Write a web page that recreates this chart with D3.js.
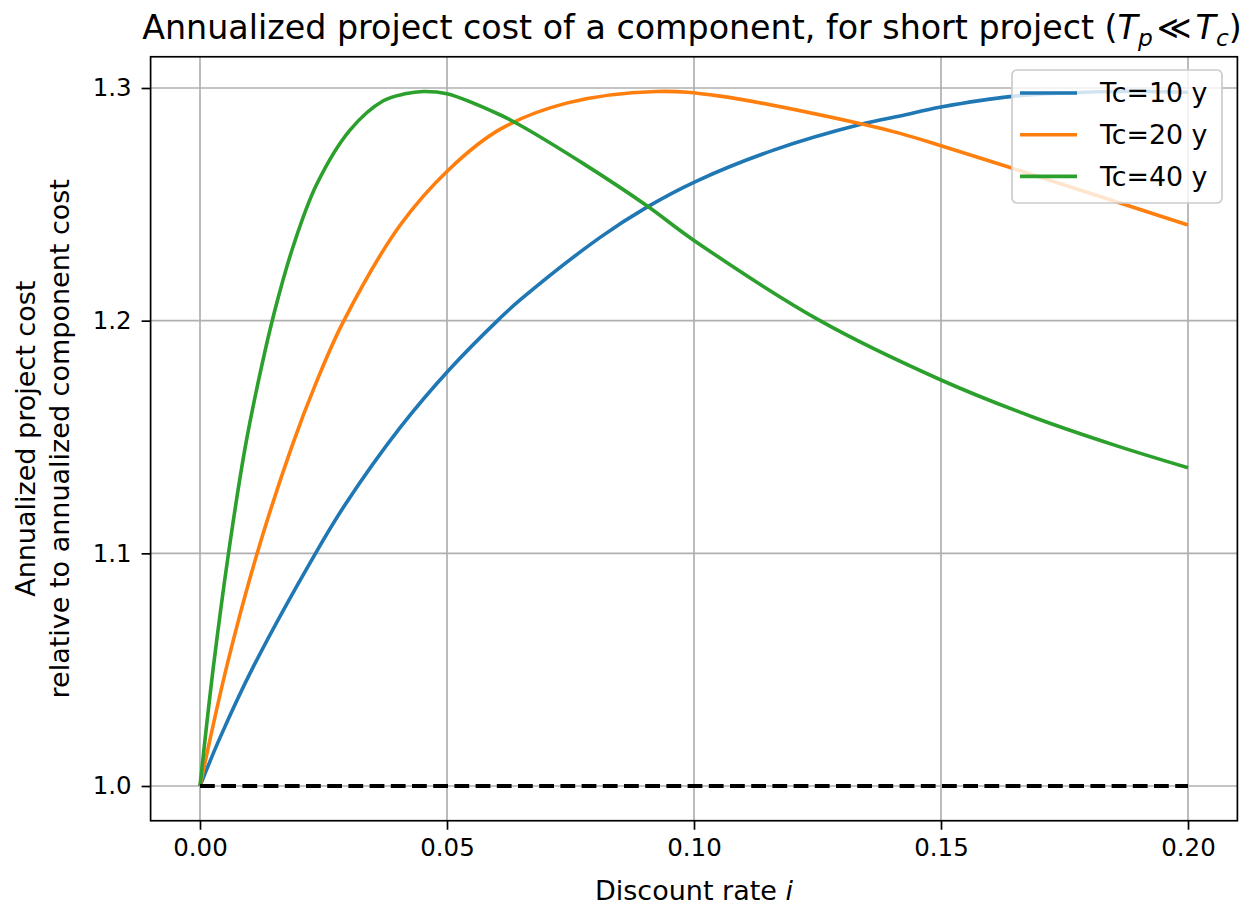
<!DOCTYPE html>
<html>
<head>
<meta charset="utf-8">
<script src="https://cdn.jsdelivr.net/npm/d3@7"></script>
<style>
  html, body { margin: 0; padding: 0; background: #fff; }
  svg { display: block; font-family: "DejaVu Sans", sans-serif; }
</style>
</head>
<body>
<svg id="chart" width="1258" height="908"></svg>
<script>
// ---- data ----
const seriesLabels = ["Tc=10 y", "Tc=20 y", "Tc=40 y"];
const seriesColors = ["#1f77b4", "#ff7f0e", "#2ca02c"];

const rateTc10 = [0, 0.0041, 0.0108, 0.0233, 0.0294, 0.0405, 0.0504, 0.0607, 0.0648, 0.081, 0.0904, 0.1002, 0.1161, 0.134, 0.1417, 0.15, 0.164, 0.185, 0.2];
const costTc10 = [1.0, 1.021, 1.0513, 1.0997, 1.121, 1.154, 1.1788, 1.201, 1.2089, 1.2358, 1.2487, 1.2597, 1.2733, 1.2845, 1.288, 1.2918, 1.2963, 1.2985, 1.2982];

const rateTc20 = [0, 0.0054, 0.0115, 0.0186, 0.0236, 0.029, 0.0405, 0.0504, 0.0607, 0.0742, 0.0924, 0.1053, 0.134, 0.1417, 0.15, 0.164, 0.2];
const costTc20 = [1.0, 1.0513, 1.0995, 1.146, 1.1738, 1.1995, 1.241, 1.265, 1.2822, 1.2935, 1.2985, 1.2965, 1.2845, 1.2805, 1.2752, 1.2658, 1.2411];

const rateTc40 = [0, 0.0027, 0.0057, 0.0091, 0.0118, 0.015, 0.0189, 0.0236, 0.0304, 0.0371, 0.0415, 0.0452, 0.05, 0.0607, 0.0648, 0.0776, 0.0904, 0.1, 0.1255, 0.15, 0.1687, 0.1856, 0.2];
const costTc40 = [1.0, 1.051, 1.099, 1.145, 1.1738, 1.2032, 1.2322, 1.2585, 1.282, 1.2945, 1.2975, 1.2985, 1.2975, 1.2885, 1.284, 1.2675, 1.2495, 1.2345, 1.2, 1.1745, 1.1585, 1.1462, 1.1368];

const baselineRate = [0, 0.2];
const baselineCost = [1.0, 1.0];

const xTicks = [0, 0.05, 0.10, 0.15, 0.20];
const xTickLabels = ["0.00", "0.05", "0.10", "0.15", "0.20"];
const yTicks = [1.0, 1.1, 1.2, 1.3];
const yTickLabels = ["1.0", "1.1", "1.2", "1.3"];

const titleText = "Annualized project cost of a component, for short project (";
const xLabelText = "Discount rate ";
const yLabelLines = ["Annualized project cost", "relative to annualized component cost"];

// ---- build ----
(function () {
const series = [
  { label: seriesLabels[0], color: seriesColors[0], rate: rateTc10, cost: costTc10 },
  { label: seriesLabels[1], color: seriesColors[1], rate: rateTc20, cost: costTc20 },
  { label: seriesLabels[2], color: seriesColors[2], rate: rateTc40, cost: costTc40 }
];

const svg = d3.select("#chart");
const tickFont = 24.5, labelFont = 27, titleFont = 33.3, legendFont = 26.8;

const xMin = 0, xMax = 0.2;
const allCost = [].concat(costTc10, costTc20, costTc40, baselineCost);
const yMin = d3.min(allCost), yMax = d3.max(allCost);
const xPad = (xMax - xMin) * 0.05, yPad = (yMax - yMin) * 0.05;

function py(v) { return 786 - (v - 1.0) / 0.3 * 698; }
const x = d3.scaleLinear().domain([xMin - xPad, xMax + xPad]).range([150.6, 1237.4]);
const y = d3.scaleLinear().domain([yMin - yPad, yMax + yPad]).range([py(yMin - yPad), py(yMax + yPad)]);

const pLeft = x.range()[0], pRight = x.range()[1];
const pTop = y.range()[1], pBottom = y.range()[0];

const grid = svg.append("g");
grid.selectAll("line.gx").data(xTicks).enter().append("line")
  .attr("x1", d => x(d)).attr("x2", d => x(d))
  .attr("y1", pTop).attr("y2", pBottom)
  .attr("stroke", "#b0b0b0").attr("stroke-width", 1.7);
grid.selectAll("line.gy").data(yTicks).enter().append("line")
  .attr("x1", pLeft).attr("x2", pRight)
  .attr("y1", d => y(d)).attr("y2", d => y(d))
  .attr("stroke", "#b0b0b0").attr("stroke-width", 1.7);

svg.append("clipPath").attr("id", "plotclip").append("rect")
  .attr("x", pLeft).attr("y", pTop).attr("width", pRight - pLeft).attr("height", pBottom - pTop);

const line = d3.line().x(d => x(d[0])).y(d => y(d[1])).curve(d3.curveCatmullRom.alpha(0.5));
const plot = svg.append("g").attr("clip-path", "url(#plotclip)");

series.forEach(s => {
  plot.append("path")
    .datum(s.rate.map((r, i) => [r, s.cost[i]]))
    .attr("d", line)
    .attr("fill", "none")
    .attr("stroke", s.color)
    .attr("stroke-width", 3.6)
    .attr("stroke-linejoin", "round");
});

plot.append("path")
  .datum(baselineRate.map((r, i) => [r, baselineCost[i]]))
  .attr("d", d3.line().x(d => x(d[0])).y(d => y(d[1])))
  .attr("fill", "none")
  .attr("stroke", "#000")
  .attr("stroke-width", 4)
  .attr("stroke-dasharray", "14.8,6.4");

const xAxis = d3.axisBottom(x).tickValues(xTicks).tickFormat((d, i) => xTickLabels[i]).tickSize(9).tickPadding(9);
const gx = svg.append("g").attr("transform", `translate(0,${pBottom})`).call(xAxis);
const yAxis = d3.axisLeft(y).tickValues(yTicks).tickFormat((d, i) => yTickLabels[i]).tickSize(9).tickPadding(10);
const gy = svg.append("g").attr("transform", `translate(${pLeft},0)`).call(yAxis);
[gx, gy].forEach(g => {
  g.select(".domain").remove();
  g.selectAll(".tick line").attr("stroke", "#000").attr("stroke-width", 1.7);
  g.selectAll(".tick text").attr("font-size", tickFont).attr("fill", "#000")
    .attr("font-family", "DejaVu Sans");
});

svg.append("rect").attr("x", pLeft).attr("y", pTop).attr("width", pRight - pLeft).attr("height", pBottom - pTop)
  .attr("fill", "none").attr("stroke", "#000").attr("stroke-width", 1.7);

const lg = svg.append("g");
lg.append("rect").attr("x", 1012).attr("y", 70).attr("width", 210).attr("height", 133)
  .attr("rx", 5).attr("fill", "#fff").attr("fill-opacity", 0.8)
  .attr("stroke", "#cccccc").attr("stroke-width", 1.7);
series.forEach((s, i) => {
  const cy = 93 + i * 41.7;
  lg.append("line").attr("x1", 1020).attr("x2", 1077).attr("y1", cy).attr("y2", cy)
    .attr("stroke", s.color).attr("stroke-width", 3.6);
  lg.append("text").attr("x", 1100).attr("y", cy).attr("dy", "0.35em")
    .attr("font-size", legendFont).attr("fill", "#000").text(s.label);
});

const title = svg.append("text").attr("x", (pLeft + pRight) / 2 - 2).attr("y", 39)
  .attr("text-anchor", "middle").attr("font-size", titleFont).attr("fill", "#000");
title.append("tspan").text(titleText);
title.append("tspan").attr("font-style", "italic").text("T");
title.append("tspan").attr("font-style", "italic").attr("font-size", titleFont * 0.7).attr("dy", 7).text("p");
title.append("tspan").attr("dy", -7).attr("dx", 4).text("≪");
title.append("tspan").attr("font-style", "italic").attr("dx", 4).text("T");
title.append("tspan").attr("font-style", "italic").attr("font-size", titleFont * 0.7).attr("dy", 7).text("c");
title.append("tspan").attr("dy", -7).text(")");

const xl = svg.append("text").attr("x", (pLeft + pRight) / 2).attr("y", 900)
  .attr("text-anchor", "middle").attr("font-size", labelFont).attr("fill", "#000");
xl.append("tspan").text(xLabelText);
xl.append("tspan").attr("font-style", "italic").text("i");

const cyMid = (pTop + pBottom) / 2;
yLabelLines.forEach((t, i) => {
  svg.append("text")
    .attr("transform", `translate(${26 + i * 34},${cyMid}) rotate(-90)`)
    .attr("text-anchor", "middle").attr("dy", "0.35em")
    .attr("font-size", labelFont).attr("fill", "#000").text(t);
});
})();
</script>
</body>
</html>
